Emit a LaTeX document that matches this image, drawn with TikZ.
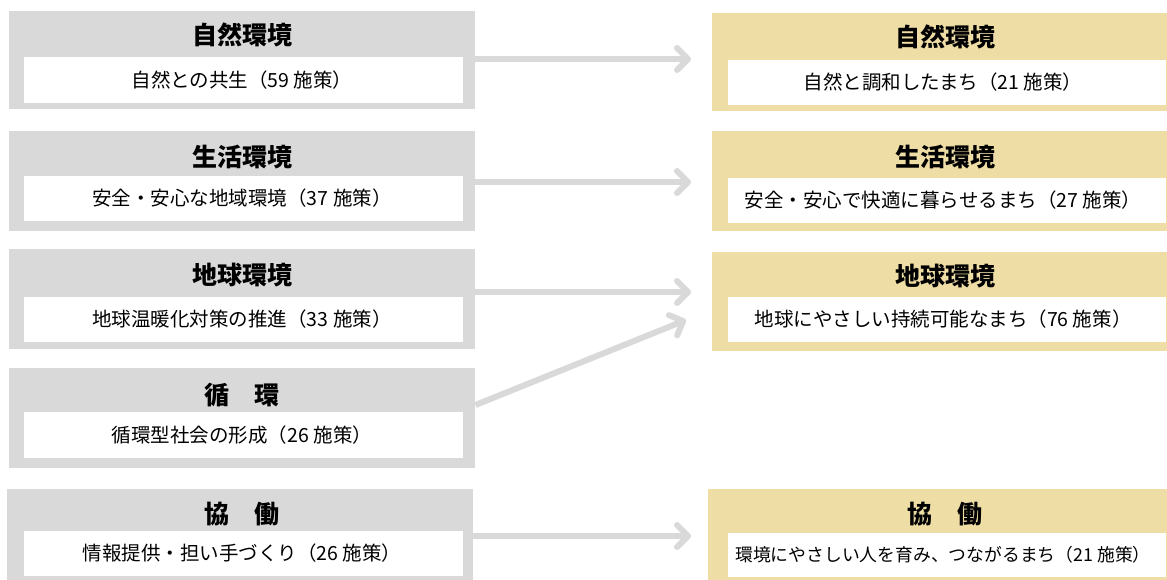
\documentclass[tikz,border=0pt]{standalone}
\usepackage{fontspec}
\setmainfont{Noto Sans CJK JP}
\usetikzlibrary{arrows.meta}
\definecolor{boxgray}{HTML}{D9D9D9}
\definecolor{boxtan}{HTML}{EEDDA5}
\begin{document}
\begin{tikzpicture}[x=1pt,y=-1pt,
  outer/.style={rectangle, draw=none, inner sep=0pt, anchor=north west},
  lbox/.style={outer, fill=boxgray, minimum width=466pt, minimum height=100pt},
  rbox/.style={outer, fill=boxtan, minimum width=470pt, minimum height=99pt},
  inbox/.style={outer, fill=white, minimum height=46pt},
  ttl/.style={inner sep=0pt, font=\bfseries\fontsize{25}{30}\selectfont},
  body/.style={inner sep=0pt, font=\fontsize{19.5}{24}\selectfont},
  arr/.style={draw=boxgray, line width=6pt, -{Straight Barb[length=11pt,width=22pt,round]}}]
\useasboundingbox (0,0) rectangle (1167,579);
\clip (0,0) rectangle (1167,579);
% left column
\node[lbox, minimum height=98pt] (l1) at (9,11) {};
\node[inbox, minimum width=439pt] (l1i) at (24,57) {};
\node[ttl] (l1t) at (242,35) {自然環境};
\node[body] (l1b) at (242,80) {自然との共生（59 施策）};

\node[lbox] (l2) at (9,131) {};
\node[inbox, minimum width=439pt, minimum height=45pt] (l2i) at (24,176) {};
\node[ttl] (l2t) at (242,157) {生活環境};
\node[body] (l2b) at (242,198.5) {安全・安心な地域環境（37 施策）};

\node[lbox] (l3) at (9,249) {};
\node[inbox, minimum width=439pt, minimum height=45pt] (l3i) at (24,297) {};
\node[ttl] (l3t) at (242,275) {地球環境};
\node[body] (l3b) at (242,319.5) {地球温暖化対策の推進（33 施策）};

\node[lbox] (l4) at (9,368) {};
\node[inbox, minimum width=439pt] (l4i) at (24,412) {};
\node[ttl] (l4t) at (242,395) {循　環};
\node[body] (l4b) at (242,435) {循環型社会の形成（26 施策）};

\node[lbox, minimum height=95pt] (l5) at (7,489) {};
\node[inbox, minimum width=439pt, minimum height=45pt] (l5i) at (24,531) {};
\node[ttl] (l5t) at (242,514) {協　働};
\node[body] (l5b) at (242,553.5) {情報提供・担い手づくり（26 施策）};
% right column
\node[rbox, minimum height=98pt] (r1) at (712,13) {};
\node[inbox, minimum width=438pt, minimum height=45pt] (r1i) at (728,60) {};
\node[ttl] (r1t) at (945,37) {自然環境};
\node[body] (r1b) at (943,82.5) {自然と調和したまち（21 施策）};

\node[rbox, minimum height=100pt] (r2) at (712,131) {};
\node[inbox, minimum width=438pt, minimum height=45pt] (r2i) at (728,178) {};
\node[ttl] (r2t) at (945,157) {生活環境};
\node[body] (r2b) at (943,200.5) {安全・安心で快適に暮らせるまち（27 施策）};

\node[rbox] (r3) at (712,252) {};
\node[inbox, minimum width=438pt, minimum height=45pt] (r3i) at (728,297) {};
\node[ttl] (r3t) at (945,276) {地球環境};
\node[body] (r3b) at (943,319.5) {地球にやさしい持続可能なまち（76 施策）};

\node[rbox, minimum width=474pt, minimum height=95pt] (r5) at (708,489) {};
\node[inbox, minimum width=438pt, minimum height=44pt] (r5i) at (728,533) {};
\node[ttl] (r5t) at (945,514) {協　働};
\node[body, font=\fontsize{17.8}{22}\selectfont] (r5b) at (943,555) {環境にやさしい人を育み、つながるまち（21 施策）};
% arrows
\coordinate (a1) at (0,59);
\coordinate (a2) at (0,182);
\coordinate (a3) at (0,292);
\coordinate (a4) at (0,405);
\coordinate (t4) at (686,320);
\coordinate (a5) at (0,536);
\draw[arr, shorten >=21pt] (l1.east |- a1) -- (r1.west |- a1);
\draw[arr, shorten >=21pt] (l2.east |- a2) -- (r2.west |- a2);
\draw[arr, shorten >=21pt] (l3.east |- a3) -- (r3.west |- a3);
\draw[arr] (l4.east |- a4) -- (t4);
\draw[arr, shorten >=17pt] (l5.east |- a5) -- (r5.west |- a5);
\end{tikzpicture}
\end{document}
